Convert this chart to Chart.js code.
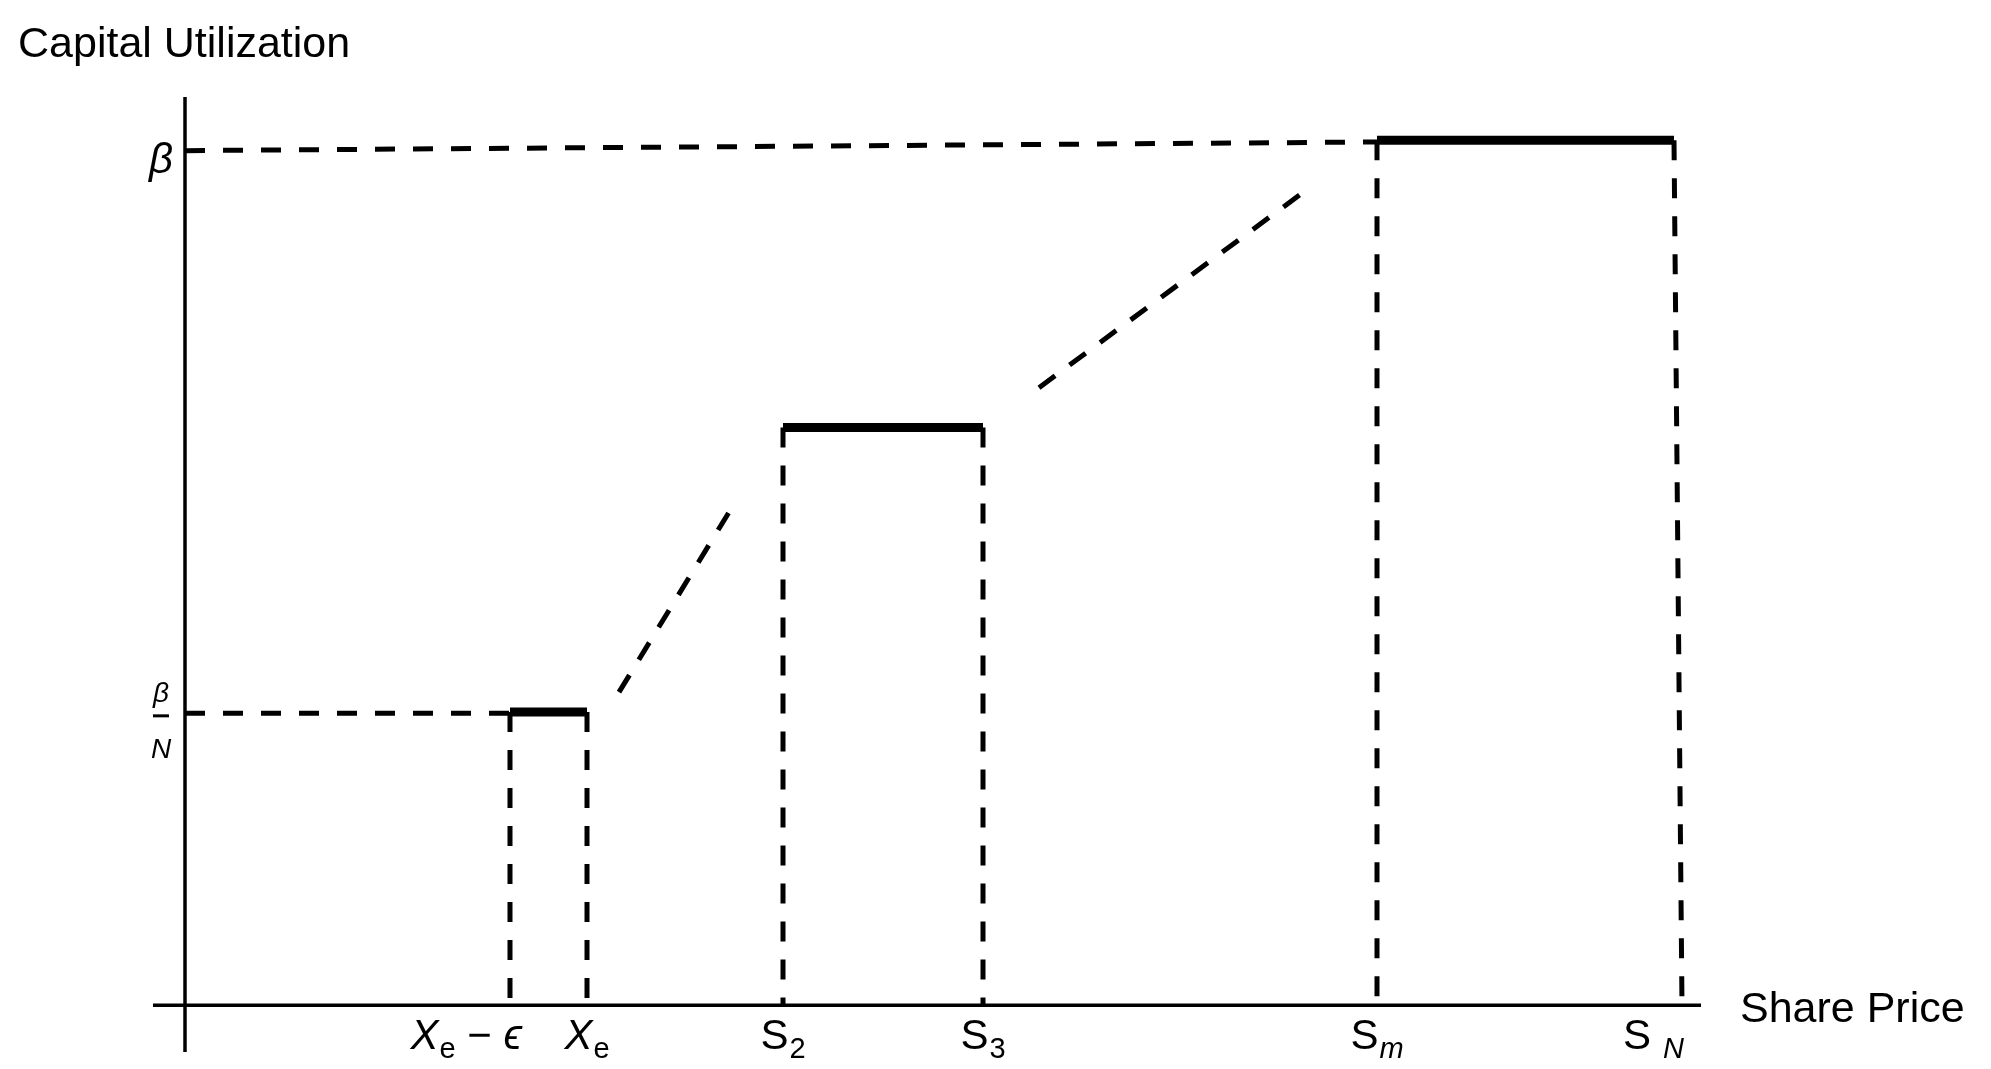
<!DOCTYPE html>
<html>
<head>
<meta charset="utf-8">
<script src="https://cdn.jsdelivr.net/npm/chart.js@4"></script>
<style>
  html, body { margin: 0; padding: 0; background: #fff; }
  #chart { display: block; }
</style>
</head>
<body>
<canvas id="chart" width="1991" height="1069"></canvas>
<script>
(function () {
  "use strict";

  // share price positions of the marked points (origin at the y axis)
  var tickX = [32.5, 40.2, 59.8, 79.8, 119.2, 149.7];
  var tickMain = ["X", "X", "S", "S", "S", "S"];
  var tickSub = ["e", "e", "2", "3", "m", "N"];
  var tickTail = [" \u2212 \u03f5", "", "", "", "", ""];

  // flat utilization segments (solid, thick), beta = 1
  var stepStart = [32.5, 59.8, 119.2];
  var stepEnd = [40.2, 79.8, 148.9];
  var stepLevel = [0.339, 0.668, 1.0];

  // dashed ramps between the steps
  var rampX = [[43.4, 54.4], [85.4, 111.6]];
  var rampY = [[0.362, 0.570], [0.714, 0.938]];

  // dashed drops from each step end down to the x axis
  var dropTopX = [32.5, 40.2, 59.8, 79.8, 119.2, 148.9];
  var dropBottomX = [32.5, 40.2, 59.8, 79.8, 119.2, 149.7];
  var dropTopY = [0.339, 0.339, 0.668, 0.668, 1.0, 1.0];

  // dashed guides from the y axis to the steps
  var guideEndX = [32.5, 119.2];
  var guideStartY = [0.3375, 0.988];
  var guideEndY = [0.3375, 0.998];

  // axis extents
  var axisX = [-3.2, 151.6];
  var axisY = [-0.054, 1.05];

  var FONT = "'Liberation Sans', Arial, 'DejaVu Sans', sans-serif";
  var ITALIC = "XmN\u03f5";

  function seg(x0, y0, x1, y1) {
    return [{ x: x0, y: y0 }, { x: x1, y: y1 }];
  }

  function solid(data, width) {
    return {
      data: data,
      borderColor: "#000",
      borderWidth: width,
      borderCapStyle: "butt",
      pointRadius: 0,
      fill: false,
      clip: false
    };
  }

  function dashed(data) {
    var ds = solid(data, 5);
    ds.borderDash = [20, 18];
    return ds;
  }

  var datasets = [];
  datasets.push(solid(seg(axisX[0], 0, axisX[1], 0), 3.5));
  datasets.push(solid(seg(0, axisY[0], 0, axisY[1]), 3.5));
  stepStart.forEach(function (x, i) {
    datasets.push(solid(seg(x, stepLevel[i], stepEnd[i], stepLevel[i]), 9));
  });
  rampX.forEach(function (xs, i) {
    datasets.push(dashed(seg(xs[0], rampY[i][0], xs[1], rampY[i][1])));
  });
  dropTopX.forEach(function (x, i) {
    datasets.push(dashed(seg(x, dropTopY[i], dropBottomX[i], 0)));
  });
  guideEndX.forEach(function (x, i) {
    datasets.push(dashed(seg(0, guideStartY[i], x, guideEndY[i])));
  });

  function setFont(ctx, ch, size) {
    ctx.font = (ITALIC.indexOf(ch) >= 0 ? "italic " : "") + size + "px " + FONT;
  }

  function pieceWidth(ctx, text, size) {
    var w = 0;
    for (var k = 0; k < text.length; k++) {
      setFont(ctx, text[k], size);
      w += ctx.measureText(text[k]).width;
    }
    return w;
  }

  function drawPiece(ctx, text, size, x, y) {
    for (var k = 0; k < text.length; k++) {
      setFont(ctx, text[k], size);
      ctx.fillText(text[k], x, y);
      x += ctx.measureText(text[k]).width;
    }
    return x;
  }

  var labelPlugin = {
    id: "labels",
    afterDraw: function (chart) {
      var ctx = chart.ctx;
      var xs = chart.scales.x;
      var ys = chart.scales.y;
      var x0 = xs.getPixelForValue(0);
      var y0 = ys.getPixelForValue(0);
      ctx.save();
      ctx.fillStyle = "#000";
      ctx.textBaseline = "alphabetic";
      ctx.textAlign = "left";

      ctx.font = "43px " + FONT;
      ctx.fillText("Capital Utilization", 18, 57);
      ctx.fillText("Share Price", xs.right + 39, y0 + 17);

      // x tick labels with subscripts
      tickX.forEach(function (v, i) {
        var px = xs.getPixelForValue(v);
        var gap = tickSub[i] === "N" ? 12 : 1;
        var w = pieceWidth(ctx, tickMain[i], 42) + gap + pieceWidth(ctx, tickSub[i], 29) + pieceWidth(ctx, tickTail[i], 42);
        var left = px - w / 2;
        if (i === 0) left = px + 12 - w;
        if (i === tickX.length - 1) left = px + 2 - w;
        var cx = drawPiece(ctx, tickMain[i], 42, left, y0 + 44);
        cx = drawPiece(ctx, tickSub[i], 29, cx + gap, y0 + 53);
        drawPiece(ctx, tickTail[i], 42, cx, y0 + 44);
      });

      // y labels: beta and beta / N
      var lx = x0 - 24;
      ctx.textAlign = "center";
      ctx.font = "italic 42px " + FONT;
      ctx.fillText("\u03b2", lx, ys.getPixelForValue(guideStartY[1]) + 22);
      var fy = ys.getPixelForValue(guideStartY[0]);
      ctx.font = "italic 28px " + FONT;
      ctx.fillText("\u03b2", lx, fy - 11);
      ctx.fillText("N", lx, fy + 45);
      ctx.fillRect(lx - 8, fy + 1, 16, 3);
      ctx.restore();
    }
  };

  new Chart(document.getElementById("chart"), {
    type: "line",
    data: { datasets: datasets },
    options: {
      responsive: false,
      animation: false,
      devicePixelRatio: 1,
      layout: { padding: { left: 153, right: 290, top: 97, bottom: 17 } },
      scales: {
        x: { type: "linear", min: axisX[0], max: axisX[1], display: false },
        y: { type: "linear", min: axisY[0], max: axisY[1], display: false }
      },
      plugins: { legend: { display: false }, tooltip: { enabled: false } },
      elements: { line: { tension: 0 } }
    },
    plugins: [labelPlugin]
  });
})();
</script>
</body>
</html>
